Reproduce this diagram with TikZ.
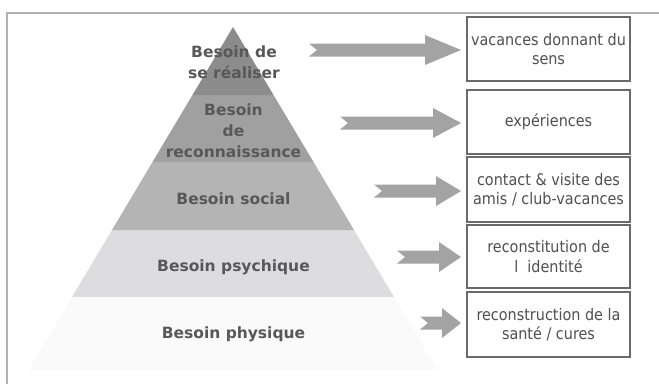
\documentclass[tikz,border=0pt]{standalone}
\usepackage{fontspec}
\setmainfont{DejaVu Sans}
\newfontfamily\pyrfont{DejaVu Sans}
\newfontfamily\boxfont{DejaVu Sans}[FakeStretch=0.9]
\definecolor{framec}{HTML}{B0B0B0}
\definecolor{layA}{HTML}{8C8C8C}
\definecolor{layB}{HTML}{A0A0A0}
\definecolor{layC}{HTML}{B4B4B4}
\definecolor{layD}{HTML}{DDDDDF}
\definecolor{layE}{HTML}{FAFAFA}
\definecolor{pyrtext}{HTML}{585858}
\definecolor{boxtext}{HTML}{505050}
\definecolor{boxline}{HTML}{6A6A6A}
\definecolor{arrowfill}{HTML}{A3A3A3}
\tikzset{
  pyrlabel/.style={font=\pyrfont\bfseries\fontsize{15.5}{20.5}\selectfont, text=pyrtext, align=center, inner sep=0pt},
  infobox/.style={draw=boxline, line width=1.5pt, fill=white, minimum width=163pt, inner sep=1pt,
    font=\boxfont\fontsize{16}{19.5}\selectfont, text=boxtext, align=center},
}
\newcommand\blkarrow[4]{%
  \fill[arrowfill] (#1,#3-6.5) -- (#2-#4,#3-6.5) -- (#2-#4,#3-15) -- (#2,#3)
    -- (#2-#4,#3+15) -- (#2-#4,#3+6.5) -- (#1,#3+6.5) -- (#1+8,#3) -- cycle;}
\begin{document}
\begin{tikzpicture}[x=1pt,y=-1pt]
\useasboundingbox (0,0) rectangle (659,384);
\fill[white] (0,0) rectangle (659,384);
% frame
\draw[framec, line width=1.5pt] (659,13) -- (7,13) -- (7,384);
% pyramid layers
\fill[layE] (72,297) -- (394,297) -- (437.5,370) -- (28.5,370) -- cycle;
\fill[layD] (112,230) -- (354,230) -- (394,297) -- (72,297) -- cycle;
\fill[layC] (152.5,162) -- (313.5,162) -- (354,230) -- (112,230) -- cycle;
\fill[layB] (192.5,95) -- (273.5,95) -- (313.5,162) -- (152.5,162) -- cycle;
\fill[layA] (233,27) -- (273.5,95) -- (192.5,95) -- cycle;
% pyramid labels
\node[pyrlabel] (p1) at (234,62) {Besoin de\\se réaliser};
\node[pyrlabel, font=\pyrfont\bfseries\fontsize{15.5}{21}\selectfont] (p2) at (233.5,131) {Besoin\\de\\reconnaissance};
\node[pyrlabel] (p3) at (233.5,199) {Besoin social};
\node[pyrlabel] (p4) at (233.5,267) {Besoin psychique};
\node[pyrlabel] (p5) at (233.5,334) {Besoin physique};
% boxes
\node[infobox, minimum height=64pt] (b1) at (548.5,49) {vacances donnant du\\sens};
\node[infobox, minimum height=64pt] (b2) at (548.5,122) {expériences};
\node[infobox, minimum height=65pt] (b3) at (548.5,189.5) {contact \& visite des\\amis / club-vacances};
\node[infobox, minimum height=63pt] (b4) at (548.5,256.5) {reconstitution de\\l \ identité};
\node[infobox, minimum height=65pt] (b5) at (548.5,324.5) {reconstruction de la\\santé / cures};
% arrows
\blkarrow{309}{461}{50}{36}
\blkarrow{340}{461}{123}{28}
\blkarrow{374}{461}{191}{25}
\blkarrow{397}{461}{257}{22}
\blkarrow{420}{461}{323}{19}
\end{tikzpicture}
\end{document}
